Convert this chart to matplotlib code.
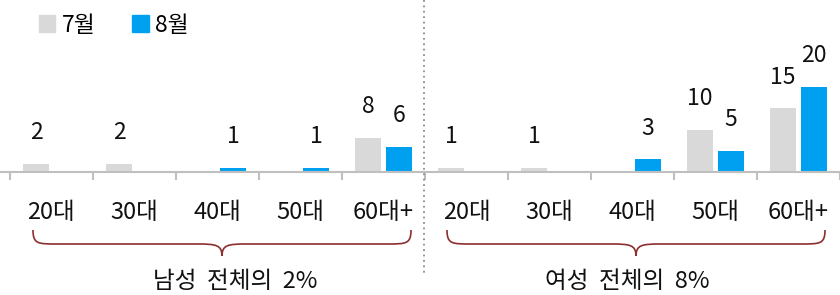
import matplotlib
matplotlib.use('Agg')
import matplotlib.pyplot as plt
from matplotlib.path import Path
from matplotlib.patches import PathPatch, Patch
from matplotlib.lines import Line2D

plt.rcParams['font.family'] = ['Noto Sans CJK KR', 'DejaVu Sans']

ages = ['20대', '30대', '40대', '50대', '60대+']
male_jul = [2, 2, 0, 0, 8]
male_aug = [0, 0, 1, 1, 6]
female_jul = [1, 1, 0, 10, 15]
female_aug = [0, 0, 3, 5, 20]
group_labels = ['남성  전체의  2%', '여성  전체의  8%']
series_names = ['7월', '8월']

gray = '#d9d9d9'
blue = '#00a0f0'
W, H = 840, 295

fig = plt.figure(figsize=(W / 100, H / 100), dpi=100)
ax = fig.add_axes([0, 123 / H, 1, 172 / H])

jul = male_jul + female_jul
aug = male_aug + female_aug
labels = ages + ages
x = list(range(len(labels)))
bw = 0.31
off = 0.186

b1 = ax.bar([i - off for i in x], jul, bw, color=gray, zorder=2)
b2 = ax.bar([i + off for i in x], aug, bw, color=blue, zorder=2)

for bars, vals in ((b1, jul), (b2, aug)):
    for b, v in zip(bars, vals):
        if v == 0:
            b.set_visible(False)
            continue
        ax.annotate(str(v), (b.get_x() + b.get_width() / 2, v),
                    xytext=(0, 22.5), textcoords='offset points',
                    ha='center', va='center', fontsize=16.5, color='#111111')

ax.set_xlim(-0.62, 9.464)
ax.set_ylim(0, 40.5)
for s in ('top', 'left', 'right'):
    ax.spines[s].set_visible(False)
ax.spines['bottom'].set_color('#bfbfbf')
ax.spines['bottom'].set_linewidth(1.5)
ax.set_yticks([])
ax.set_xticks([i - 0.5 for i in range(len(labels) + 1)])
ax.set_xticklabels([])
ax.tick_params(axis='x', which='major', length=6, width=1.5, color='#bfbfbf', direction='out')
ax.set_xticks(x, minor=True)
ax.set_xticklabels(labels, minor=True, fontsize=17, color='#111111')
ax.tick_params(axis='x', which='minor', length=0, pad=21)

# divider
fig.add_artist(Line2D([424 / W, 424 / W], [1, 1 - 273 / H], transform=fig.transFigure,
                      color='#8c8c8c', lw=1.3, linestyle=(0, (1, 2))))


def fxy(px, py):
    return (px / W, 1 - py / H)


def brace(x0, x1, ytop, ymid, ytip, r=24):
    xm = (x0 + x1) / 2
    pts = [
        (x0, ytop), (x0, ymid), (x0 + r * 0.2, ymid), (x0 + r, ymid),
        (xm - r, ymid),
        (xm - 6, ymid), (xm, ymid + 1), (xm, ytip),
        (xm, ymid + 1), (xm + 6, ymid), (xm + r, ymid),
        (x1 - r, ymid),
        (x1 - r * 0.2, ymid), (x1, ymid), (x1, ytop),
    ]
    codes = [Path.MOVETO, Path.CURVE4, Path.CURVE4, Path.CURVE4, Path.LINETO,
             Path.CURVE4, Path.CURVE4, Path.CURVE4,
             Path.CURVE4, Path.CURVE4, Path.CURVE4, Path.LINETO,
             Path.CURVE4, Path.CURVE4, Path.CURVE4]
    path = Path([fxy(*p) for p in pts], codes)
    fig.add_artist(PathPatch(path, transform=fig.transFigure, fill=False,
                             edgecolor='#8b2f2f', lw=1.2))


brace(33, 411, 230, 244, 256)
brace(447, 825, 230, 244, 256)

fig.text(235 / W, 1 - 282 / H, group_labels[0], ha='center', va='center', fontsize=17, color='#111111')
fig.text(627 / W, 1 - 282 / H, group_labels[1], ha='center', va='center', fontsize=17, color='#111111')

handles = [Patch(color=gray), Patch(color=blue)]
fig.legend(handles, series_names, loc='center left', bbox_to_anchor=(39 / W, 1 - 25 / H),
           ncol=2, frameon=False, fontsize=16.5, handlelength=0.7, handleheight=0.7,
           handletextpad=0.3, columnspacing=1.6, borderpad=0, borderaxespad=0)

fig.savefig('out.png', dpi=100)
